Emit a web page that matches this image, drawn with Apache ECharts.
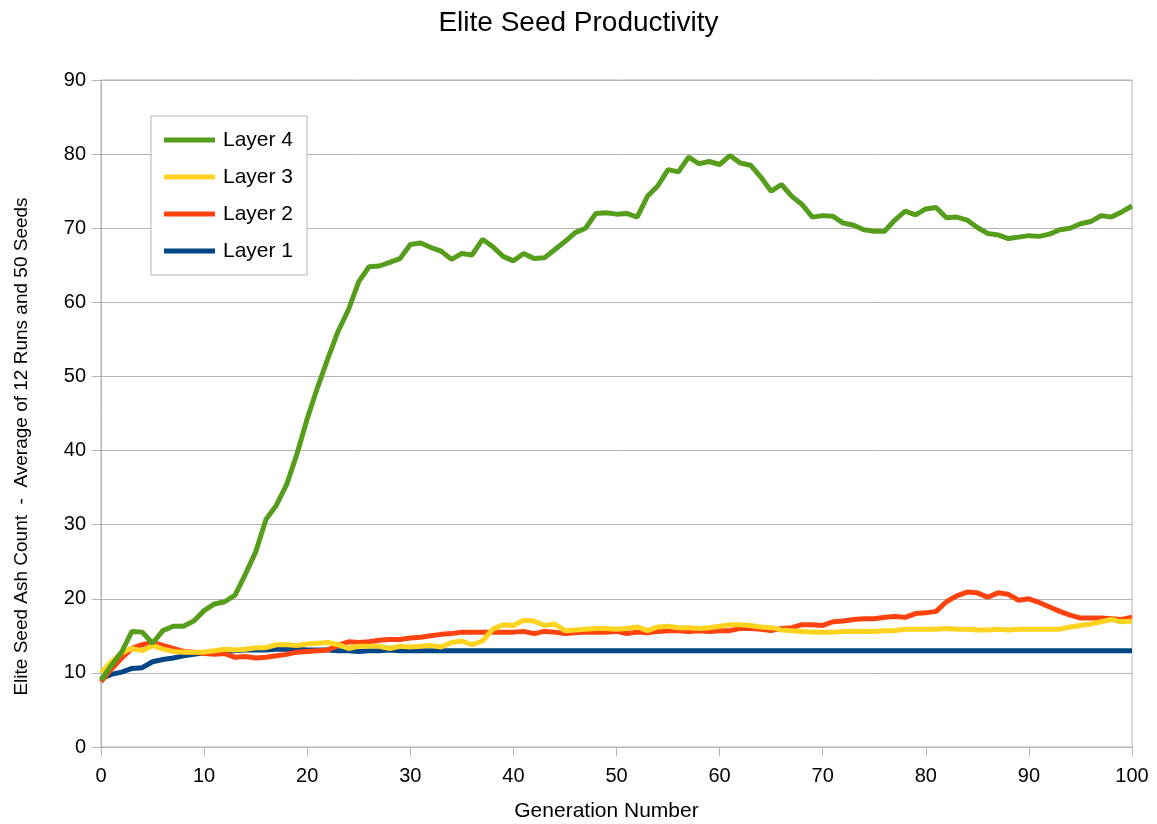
<!DOCTYPE html>
<html>
<head>
<meta charset="utf-8">
<title>Elite Seed Productivity</title>
<script src="https://cdn.jsdelivr.net/npm/echarts@6/dist/echarts.min.js"></script>
<style>
  html, body { margin: 0; padding: 0; background: #fff; }
  #chart { width: 1157px; height: 824px; }
</style>
</head>
<body>
<div id="chart"></div>
<script>
// generation numbers 0..100
var generations = [];
for (var g = 0; g <= 100; g++) generations.push(g);

var layer4 = [
  9.0, 11.0, 12.8, 15.6, 15.5, 14.0, 15.7, 16.3, 16.3, 17.0,
  18.4, 19.3, 19.6, 20.5, 23.3, 26.3, 30.7, 32.6, 35.4, 39.5,
  44.3, 48.5, 52.4, 56.1, 59.0, 62.8, 64.8, 64.9, 65.4, 65.9,
  67.8, 68.0, 67.4, 66.9, 65.8, 66.6, 66.4, 68.5, 67.5, 66.2,
  65.6, 66.6, 65.9, 66.0, 67.1, 68.2, 69.4, 70.0, 72.0, 72.1,
  71.9, 72.0, 71.5, 74.3, 75.7, 77.9, 77.6, 79.6, 78.7, 79.0,
  78.6, 79.8, 78.8, 78.5, 76.9, 75.0, 75.9, 74.3, 73.2, 71.5,
  71.7, 71.6, 70.7, 70.4, 69.8, 69.6, 69.6, 71.1, 72.3, 71.8,
  72.6, 72.8, 71.4, 71.5, 71.1, 70.1, 69.3, 69.1, 68.6, 68.8,
  69.0, 68.9, 69.2, 69.8, 70.0, 70.6, 70.9, 71.7, 71.5, 72.2,
  73.0
];

var layer3 = [
  10.0, 11.5, 12.7, 13.3, 13.0, 13.7, 13.2, 12.9, 12.8, 12.8,
  12.8, 13.0, 13.2, 13.1, 13.2, 13.4, 13.4, 13.8, 13.8, 13.7,
  13.9, 14.0, 14.1, 13.8, 13.3, 13.6, 13.6, 13.6, 13.3, 13.6,
  13.5, 13.6, 13.7, 13.5, 14.1, 14.3, 13.8, 14.3, 15.9, 16.5,
  16.4, 17.1, 17.0, 16.4, 16.6, 15.7, 15.8, 15.9, 16.0, 16.0,
  15.9, 16.0, 16.2, 15.7, 16.2, 16.3, 16.1, 16.1, 16.0, 16.1,
  16.3, 16.5, 16.5, 16.4, 16.2, 16.1, 15.8, 15.7, 15.6, 15.5,
  15.5, 15.5, 15.6, 15.6, 15.6, 15.6, 15.7, 15.7, 15.9, 15.9,
  15.9, 15.9, 16.0, 15.9, 15.9, 15.8, 15.8, 15.9, 15.8, 15.9,
  15.9, 15.9, 15.9, 15.9, 16.2, 16.4, 16.6, 16.9, 17.2, 16.9,
  17.0
];

var layer2 = [
  8.8, 10.5, 12.0, 13.3, 13.8, 14.1, 13.7, 13.3, 12.9, 12.8,
  12.6, 12.5, 12.6, 12.1, 12.2, 12.0, 12.1, 12.3, 12.5, 12.8,
  12.9, 13.0, 13.1, 13.7, 14.2, 14.1, 14.2, 14.4, 14.5, 14.5,
  14.7, 14.8, 15.0, 15.2, 15.3, 15.5, 15.5, 15.5, 15.5, 15.5,
  15.5, 15.6, 15.3, 15.6, 15.5, 15.3, 15.4, 15.5, 15.5, 15.5,
  15.6, 15.3, 15.5, 15.4, 15.6, 15.7, 15.7, 15.6, 15.7, 15.6,
  15.7, 15.7, 16.0, 16.0, 15.9, 15.7, 16.0, 16.1, 16.5, 16.5,
  16.4, 16.9, 17.0, 17.2, 17.3, 17.3, 17.5, 17.6, 17.5, 18.0,
  18.1, 18.3, 19.6, 20.4, 20.9, 20.8, 20.2, 20.8, 20.6, 19.8,
  20.0, 19.5, 18.9, 18.3, 17.8, 17.4, 17.4, 17.4, 17.3, 17.2,
  17.5
];

var layer1 = [
  9.2, 9.8, 10.1, 10.6, 10.7, 11.5, 11.8, 12.0, 12.3, 12.5,
  12.7, 12.8, 12.9, 13.0, 13.1, 13.1, 13.1, 13.2, 13.2, 13.2,
  13.1, 13.1, 13.1, 13.0, 13.0, 12.9, 13.0, 13.0, 13.1, 13.0,
  13.0, 13.0, 13.0, 13.0, 13.0, 13.0, 13.0, 13.0, 13.0, 13.0,
  13.0, 13.0, 13.0, 13.0, 13.0, 13.0, 13.0, 13.0, 13.0, 13.0,
  13.0, 13.0, 13.0, 13.0, 13.0, 13.0, 13.0, 13.0, 13.0, 13.0,
  13.0, 13.0, 13.0, 13.0, 13.0, 13.0, 13.0, 13.0, 13.0, 13.0,
  13.0, 13.0, 13.0, 13.0, 13.0, 13.0, 13.0, 13.0, 13.0, 13.0,
  13.0, 13.0, 13.0, 13.0, 13.0, 13.0, 13.0, 13.0, 13.0, 13.0,
  13.0, 13.0, 13.0, 13.0, 13.0, 13.0, 13.0, 13.0, 13.0, 13.0,
  13.0
];

var seriesNames = ['Layer 1', 'Layer 2', 'Layer 3', 'Layer 4'];
var seriesData = [layer1, layer2, layer3, layer4];
var seriesColors = ['#004586', '#ff420e', '#ffd320', '#579d1c'];

function pairs(values) {
  return values.map(function (v, i) { return [generations[i], v]; });
}

var myChart = echarts.init(document.getElementById('chart'));
var font = 'Liberation Sans, Arial, sans-serif';
var gridColor = '#b3b3b3';

var option = {
  animation: false,
  backgroundColor: '#fff',
  textStyle: { fontFamily: font },
  title: {
    text: 'Elite Seed Productivity',
    left: 'center',
    top: 4,
    textStyle: { fontFamily: font, fontSize: 28, fontWeight: 'normal', color: '#000' }
  },
  grid: {
    left: 101, right: 25, top: 80, bottom: 77,
    outerBoundsMode: 'none',
    show: true, borderColor: gridColor, borderWidth: 1
  },
  legend: {
    orient: 'vertical',
    left: 151,
    top: 116,
    padding: [12, 14, 12, 13],
    itemGap: 13,
    itemWidth: 51,
    itemHeight: 5,
    icon: 'rect',
    borderColor: gridColor,
    borderWidth: 1,
    backgroundColor: '#fff',
    data: ['Layer 4', 'Layer 3', 'Layer 2', 'Layer 1'],
    textStyle: { fontFamily: font, fontSize: 21, color: '#000', lineHeight: 24, padding: [0, 0, 0, 3] }
  },
  xAxis: {
    type: 'value',
    min: 0, max: 100, interval: 10,
    name: 'Generation Number',
    nameLocation: 'middle',
    nameGap: 54,
    nameTextStyle: { fontFamily: font, fontSize: 21, color: '#000', padding: [0, 20, 0, 0] },
    axisLine: { lineStyle: { color: gridColor } },
    axisTick: { show: true, length: 9, lineStyle: { color: gridColor } },
    axisLabel: { fontFamily: font, fontSize: 20, color: '#000', margin: 19 },
    splitLine: { show: false }
  },
  yAxis: {
    type: 'value',
    min: 0, max: 90, interval: 10,
    name: 'Elite Seed Ash Count  -  Average of 12 Runs and 50 Seeds',
    nameLocation: 'middle',
    nameGap: 70,
    nameTextStyle: { fontFamily: font, fontSize: 19, color: '#000', padding: [0, 66, 0, 0] },
    axisLine: { show: true, lineStyle: { color: gridColor } },
    axisTick: { show: true, length: 9, lineStyle: { color: gridColor } },
    axisLabel: { fontFamily: font, fontSize: 20, color: '#000', margin: 15 },
    splitLine: { show: true, lineStyle: { color: gridColor, width: 1 } }
  },
  series: seriesNames.map(function (name, i) {
    return {
      name: name,
      type: 'line',
      data: pairs(seriesData[i]),
      showSymbol: false,
      symbol: 'none',
      color: seriesColors[i],
      lineStyle: { color: seriesColors[i], width: 5 }
    };
  })
};

myChart.setOption(option);
</script>
</body>
</html>
